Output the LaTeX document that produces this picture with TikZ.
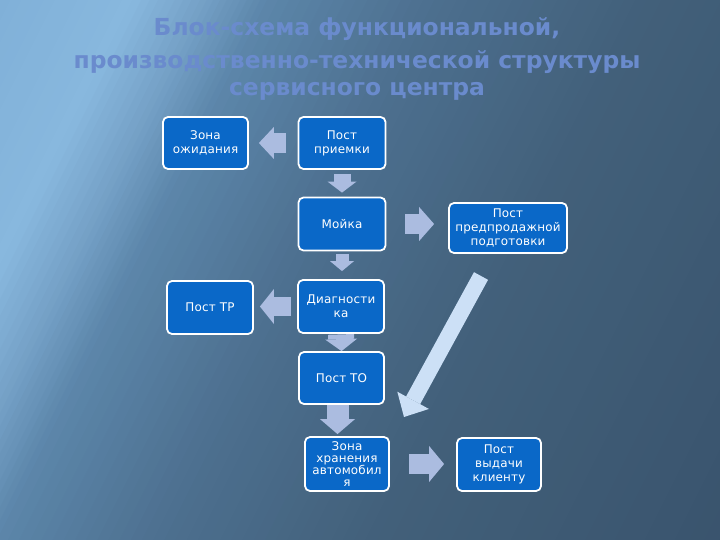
\documentclass[tikz,border=0pt]{standalone}
\usepackage{fontspec}
\setmainfont{DejaVu Sans}
\newfontfamily\boxfont[LetterSpace=1.5]{DejaVu Sans}
\usetikzlibrary{arrows.meta,calc}
\definecolor{boxblue}{HTML}{0A68C8}
\definecolor{arrowc}{HTML}{ABBCE0}
\definecolor{diagc}{HTML}{CCE0F6}
\definecolor{titlec}{HTML}{6A8BCD}
\definecolor{bgA}{HTML}{76A6CF}
\definecolor{bgB}{HTML}{80B0D8}
\definecolor{bgC}{HTML}{88B8DE}
\definecolor{bgD}{HTML}{76A2C8}
\definecolor{bgE}{HTML}{5C86AA}
\definecolor{bgF}{HTML}{4D7090}
\definecolor{bgG}{HTML}{42607A}
\definecolor{bgH}{HTML}{37506A}
\tikzset{
  box/.style={draw=white, line width=1.8bp, rounded corners=5bp, fill=boxblue,
    text=white, align=center, inner sep=1bp,
    font=\boxfont\fontsize{12}{14}\selectfont},
  blockarrow/.style n args={3}{draw=arrowc, line width=#1,
    -{Triangle[width=#2, length=#3, line width=0pt]}},
  titletext/.style={text=titlec, font=\bfseries\fontsize{23.5}{28}\selectfont, anchor=base}
}
\newcommand{\bgband}[5]{% from d1 to d2, colA colB, steps
  \foreach \i in {1,...,#5}{
    \pgfmathsetmacro\da{#1+(#2-#1)*(\i-1)/#5}
    \pgfmathsetmacro\db{#1+(#2-#1)*\i/#5+1}
    \pgfmathsetmacro\pp{100*(\i-0.5)/#5}
    \fill[#4!\pp!#3] (\da,-1500) -- (\db,-1500) -- (\db,1500) -- (\da,1500) -- cycle;
  }}
\begin{document}
\begin{tikzpicture}[x=1bp,y=-1bp]
\useasboundingbox (0,0) rectangle (720,540);
% background
\begin{scope}
\clip (0,0) rectangle (720,540);
\fill[bgH] (0,0) rectangle (720,540);
\begin{scope}[shift={(200,0)}, x={(0.894bp,-0.447bp)}, y={(-0.447bp,-0.894bp)}]
\bgband{-600}{-180}{bgA}{bgB}{20}
\bgband{-180}{-60}{bgB}{bgC}{12}
\bgband{-60}{0}{bgC}{bgD}{8}
\bgband{0}{60}{bgD}{bgE}{10}
\bgband{60}{200}{bgE}{bgF}{14}
\bgband{200}{400}{bgF}{bgG}{20}
\bgband{400}{800}{bgG}{bgH}{30}
\end{scope}
\end{scope}
% title
\node[titletext] (t1) at (357,36) {Блок-схема функциональной,};
\node[titletext] (t2) at (357,69) {производственно-технической структуры};
\node[titletext] (t3) at (357,96) {сервисного центра};
% boxes
\node[box, minimum width=85bp, minimum height=52bp] (wait) at (205.5,143) {Зона\\ожидания};
\node[box, minimum width=87bp, minimum height=52bp] (recv) at (342,143) {Пост\\приемки};
\node[box, minimum width=87bp, minimum height=53bp] (wash) at (342,224) {Мойка};
\node[box, minimum width=118bp, minimum height=50bp] (presale) at (508,228) {Пост\\предпродажной\\подготовки};
\node[box, minimum width=86bp, minimum height=53bp] (diag) at (341,306.5) {Диагности\\ка};
\node[box, minimum width=86bp, minimum height=53bp] (tr) at (210,307.5) {Пост ТР};
\node[box, minimum width=85bp, minimum height=52bp] (to) at (341.5,378) {Пост ТО};
\node[box, minimum width=84bp, minimum height=54bp, font=\boxfont\fontsize{12}{12}\selectfont] (store) at (347,464) {Зона\\хранения\\автомобил\\я};
\node[box, minimum width=84bp, minimum height=53bp] (give) at (499,464.5) {Пост\\выдачи\\клиенту};
% arrows
\draw[blockarrow={20bp}{32bp}{15bp}, shorten <=12bp, shorten >=10bp] (recv.west) -- (wait.east);
\draw[blockarrow={17bp}{29bp}{11bp}, shorten <=4bp, shorten >=4bp] (recv.south) -- (wash.north);
\draw[blockarrow={20bp}{34bp}{15bp}, shorten <=19bp, shorten >=14bp] (wash.east) -- (wash.east -| presale.west);
\draw[blockarrow={13bp}{24bp}{10bp}, shorten <=2.5bp, shorten >=8bp] (wash.south) -- (wash.south |- diag.north);
\draw[blockarrow={19bp}{35bp}{14bp}, shorten <=6bp, shorten >=6bp] (diag.west) -- (diag.west -| tr.east);
\draw[blockarrow={26bp}{32bp}{12bp}, shorten <=0.5bp, shorten >=0bp] (diag.south) -- (to.north);
\draw[blockarrow={22bp}{35bp}{15bp}, shorten <=0bp, shorten >=2bp] ([xshift=-4bp]to.south) -- ([xshift=-4bp]to.south |- store.north);
\draw[blockarrow={20bp}{36bp}{15bp}, shorten <=19bp, shorten >=12bp] (store.east) -- (store.east -| give.west);
\coordinate (dtail) at (481,276);
\coordinate (dtip) at (404,417);
\draw[blockarrow={16bp}{36bp}{19bp}, draw=diagc] (dtail) -- (dtip);
\end{tikzpicture}
\end{document}
